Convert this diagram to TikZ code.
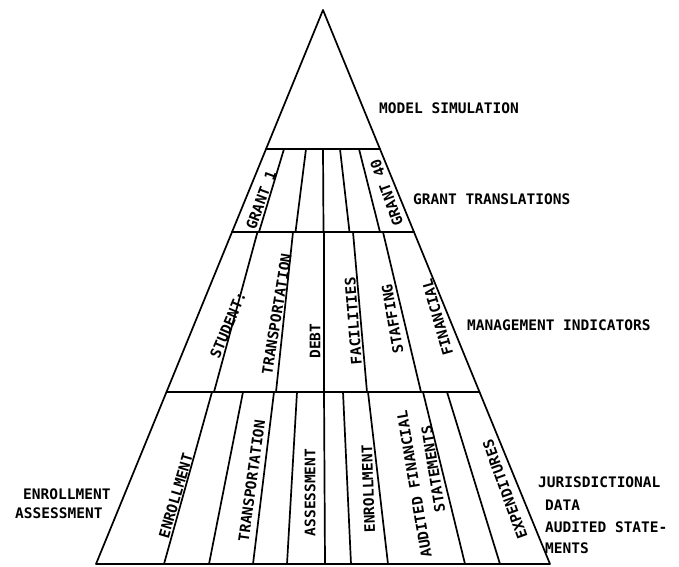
\documentclass[tikz,border=0pt]{standalone}
\usepackage{fontspec}
\newfontfamily\plotfont{DejaVu Sans Mono}
\begin{document}
\begin{tikzpicture}[x=1pt,y=-1pt,
  edge/.style={line width=1.7pt, line join=round, line cap=round},
  lbl/.style={font=\plotfont\bfseries\fontsize{14.5}{20}\selectfont,
              inner sep=0pt, text height=10.5pt, text depth=0pt},
  side/.style={lbl, anchor=west},
  cell/.style={lbl, anchor=center}]
\fill[white] (0,0) rectangle (679,566);
\useasboundingbox (0,0) rectangle (679,566);

% outline of the pyramid
\coordinate (apex) at (323,10);
\coordinate (bl) at (96,564);
\coordinate (br) at (550,564);
\draw[edge] (apex) -- (bl) -- (br) -- cycle;

% level boundaries
\coordinate (g1) at (266.05,149); \coordinate (g2) at (379.95,149);
\coordinate (m1) at (232.04,232); \coordinate (m2) at (413.96,232);
\coordinate (d1) at (166.5,392);  \coordinate (d2) at (479.5,392);
\draw[edge] (g1) -- (g2);
\draw[edge] (m1) -- (m2);
\draw[edge] (d1) -- (d2);

% grant row cells
\draw[edge] (284,149) -- (259,232);
\draw[edge] (306,149) -- (295.5,232);
\draw[edge] (323,149) -- (323.5,232);
\draw[edge] (340,149) -- (349.5,232);
\draw[edge] (359,149) -- (380,232);

% management indicator cells
\draw[edge] (257.5,232) -- (214,392);
\draw[edge] (293,232) -- (276,392);
\draw[edge] (324,232) -- (324,392);
\draw[edge] (353,232) -- (367,392);
\draw[edge] (383,232) -- (421,392);

% data cells
\draw[edge] (212,392) -- (164,564);
\draw[edge] (243,392) -- (209,564);
\draw[edge] (274,392) -- (253,564);
\draw[edge] (297,392) -- (287,564);
\draw[edge] (324,392) -- (325,564);
\draw[edge] (343,392) -- (351,564);
\draw[edge] (368,392) -- (388,564);
\draw[edge] (423,392) -- (465,564);
\draw[edge] (447,392) -- (500,564);

% level names
\node[side] (lsim) at (379,108) {MODEL SIMULATION};
\node[side] (lgrant) at (413,199) {GRANT TRANSLATIONS};
\node[side] (lmgmt) at (467,325) {MANAGEMENT INDICATORS};
\node[side] (lenr) at (23,494) {ENROLLMENT};
\node[side] (lass) at (15,513) {ASSESSMENT};
\node[side] (ljur) at (538,482) {JURISDICTIONAL};
\node[side] (ldata) at (545,505) {DATA};
\node[side] (laud) at (545,527) {AUDITED STATE-};
\node[side] (lments) at (545,548) {MENTS};

% grant labels
\node[cell, rotate=69.6] (gr1) at (261,200) {GRANT 1};
\node[cell, rotate=110] (gr40) at (386.7,192.5) {GRANT 40};

% indicator labels
\node[cell, rotate=67] (ist) at (228,325) {STUDENT:};
\node[cell, rotate=80.7] (itr) at (276.7,314) {TRANSPORTATION};
\node[cell, rotate=90] (idb) at (315,341) {DEBT};
\node[cell, rotate=94.5] (ifa) at (353.3,321) {FACILITIES};
\node[cell, rotate=99.7] (isf) at (392.5,319) {STAFFING};
\node[cell, rotate=106] (ifi) at (437.5,317.5) {FINANCIAL};

% data labels
\node[cell, rotate=73.6] (den) at (175.8,495.8) {ENROLLMENT};
\node[cell, rotate=82.2] (dtr) at (251.7,480.8) {TRANSPORTATION};
\node[cell, rotate=90] (das) at (310,492.5) {ASSESSMENT};
\node[cell, rotate=92] (den2) at (368.3,489) {ENROLLMENT};
\node[cell, rotate=99.6] (dafs) at (414.2,484.2) {AUDITED FINANCIAL};
\node[cell, rotate=99.2] (dst) at (433.3,469.2) {STATEMENTS};
\node[cell, rotate=110] (dex) at (505,489.5) {EXPENDITURES};
\end{tikzpicture}
\end{document}
